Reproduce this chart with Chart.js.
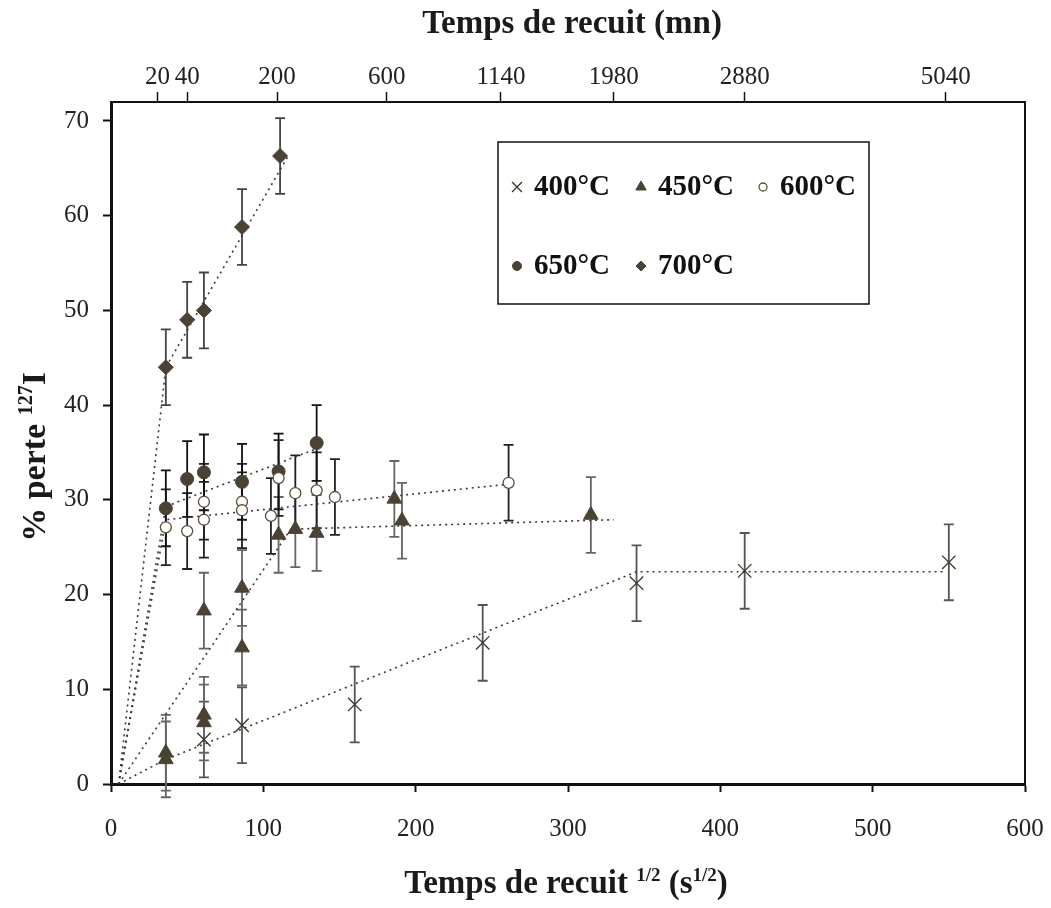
<!DOCTYPE html>
<html>
<head>
<meta charset="utf-8">
<script src="https://cdn.jsdelivr.net/npm/chart.js@4.4.1/dist/chart.umd.min.js"></script>
<style>
    body { margin: 0; background: #fff; }
    canvas { display: block; }
</style>
</head>
<body>
<canvas id="recuitChart" width="1051" height="908"></canvas>
<script>
// 400°C
var x400 = [61, 86, 160, 244, 345, 416, 550];
var y400 = [4.7, 6.2, 8.4, 14.9, 21.2, 22.5, 23.4];
var e400 = [4, 4, 4, 4, 4, 4, 4];

// 450°C
var x450 = [36, 36, 61, 61, 61, 86, 86, 110, 121, 135, 186, 191, 315];
var y450 = [3.3, 2.6, 18.3, 7.3, 6.5, 20.7, 14.4, 26.3, 26.9, 26.5, 30.1, 27.8, 28.4];
var e450 = [4, 4, 4, 4, 4, 4, 4, 4, 4, 4, 4, 4, 4];

// 600°C
var x600 = [36, 50, 61, 61, 86, 86, 105, 110, 121, 135, 147, 261];
var y600 = [27.1, 26.7, 29.8, 27.9, 29.8, 28.9, 28.3, 32.3, 30.7, 31.0, 30.3, 31.8];
var e600 = [4, 4, 4, 4, 4, 4, 4, 4, 4, 4, 4, 4];

// 650°C
var x650 = [36, 50, 61, 86, 110, 135];
var y650 = [29.1, 32.2, 32.9, 31.9, 33.0, 36.0];
var e650 = [4, 4, 4, 4, 4, 4];

// 700°C
var x700 = [36, 50, 61, 86, 111];
var y700 = [44.0, 49.0, 50.0, 58.8, 66.3];
var e700 = [4, 4, 4, 4, 4];

// dotted trend lines
var t400x = [5, 36, 345, 548];
var t400y = [0, 2.6, 22.4, 22.4];
var t450x = [5, 36, 118, 330];
var t450y = [0, 7.4, 26.9, 27.9];
var t600x = [5, 36, 258];
var t600y = [0, 27.9, 31.6];
var t650x = [5, 36, 135];
var t650y = [0, 29.3, 35.4];
var t700x = [5, 36, 117];
var t700y = [0, 44.0, 66.5];

// top axis (minutes)
var topTickPos = [30.5, 50, 109, 181, 256, 330, 416, 548];
var topTickLabels = ["20", "40", "200", "600", "1140", "1980", "2880", "5040"];

var serif = '"Liberation Serif", "Times New Roman", serif';
var markColor = "#4a4232";

function pts(xs, ys) {
    var out = [];
    for (var i = 0; i < xs.length; i++) {
        out.push({ x: xs[i], y: ys[i] });
    }
    return out;
}

function series(label, xs, ys, errs, style) {
    return Object.assign({
        type: "scatter",
        label: label,
        data: pts(xs, ys),
        errors: errs,
        order: 0
    }, style);
}

function trend(xs, ys) {
    return {
        type: "line",
        label: "",
        data: pts(xs, ys),
        isTrend: true,
        borderColor: "#3a3a3a",
        borderWidth: 1.6,
        borderDash: [2, 4],
        pointRadius: 0,
        fill: false,
        tension: 0,
        order: 5
    };
}

var datasets = [
    trend(t400x, t400y),
    trend(t450x, t450y),
    trend(t600x, t600y),
    trend(t650x, t650y),
    trend(t700x, t700y),
    series("400°C", x400, y400, e400, {
        pointStyle: "crossRot", pointRadius: 9.5, borderColor: "#3b3626", borderWidth: 1.3,
        backgroundColor: markColor, barColor: "#555", legendRadius: 7
    }),
    series("450°C", x450, y450, e450, {
        pointStyle: "triangle", pointRadius: 8.5, borderColor: markColor, borderWidth: 1,
        backgroundColor: markColor, barColor: "#666", legendRadius: 6
    }),
    series("600°C", x600, y600, e600, {
        pointStyle: "circle", pointRadius: 5.5, borderColor: "#5a4f3a", borderWidth: 1.3,
        backgroundColor: "#ffffff", barColor: "#222", legendRadius: 4
    }),
    series("650°C", x650, y650, e650, {
        pointStyle: "circle", pointRadius: 6.5, borderColor: markColor, borderWidth: 1,
        backgroundColor: markColor, barColor: "#111", legendRadius: 4.5
    }),
    series("700°C", x700, y700, e700, {
        pointStyle: "rectRot", pointRadius: 7.5, borderColor: markColor, borderWidth: 1,
        backgroundColor: markColor, barColor: "#444", legendRadius: 5
    })
];

// error bars, drawn under the markers
var errorBars = {
    id: "errorBars",
    beforeDatasetsDraw: function (chart) {
        var ctx = chart.ctx;
        var yScale = chart.scales.y;
        ctx.save();
        chart.data.datasets.forEach(function (ds, di) {
            if (!ds.errors) return;
            var meta = chart.getDatasetMeta(di);
            ctx.strokeStyle = ds.barColor;
            ctx.lineWidth = 1.8;
            meta.data.forEach(function (el, i) {
                var v = ds.data[i].y;
                var e = ds.errors[i];
                var top = yScale.getPixelForValue(v + e);
                var bot = yScale.getPixelForValue(v - e);
                ctx.beginPath();
                ctx.moveTo(el.x, top);
                ctx.lineTo(el.x, bot);
                ctx.moveTo(el.x - 5, top);
                ctx.lineTo(el.x + 5, top);
                ctx.moveTo(el.x - 5, bot);
                ctx.lineTo(el.x + 5, bot);
                ctx.stroke();
            });
        });
        ctx.restore();
    }
};

function drawRich(ctx, parts, x, y) {
    var total = 0;
    parts.forEach(function (p) {
        ctx.font = "bold " + p.size + "px " + serif;
        p.w = ctx.measureText(p.t).width;
        total += p.w;
    });
    var cx = x - total / 2;
    parts.forEach(function (p) {
        ctx.font = "bold " + p.size + "px " + serif;
        ctx.fillText(p.t, cx, y - (p.rise || 0));
        cx += p.w;
    });
}

// titles with superscripts, legend box inside the plot
var decorations = {
    id: "decorations",
    afterDraw: function (chart) {
        var ctx = chart.ctx;
        var area = chart.chartArea;
        ctx.save();
        ctx.fillStyle = "#1a1a1a";
        ctx.textBaseline = "alphabetic";
        ctx.textAlign = "left";

        drawRich(ctx, [{ t: "Temps de recuit (mn)", size: 33 }], (area.left + area.right) / 2 + 4, 33);

        drawRich(ctx, [
            { t: "Temps de recuit ", size: 33 },
            { t: "1/2", size: 19, rise: 12 },
            { t: " (s", size: 33 },
            { t: "1/2", size: 19, rise: 12 },
            { t: ")", size: 33 }
        ], (area.left + area.right) / 2 - 2, 893);

        ctx.save();
        ctx.translate(45, (area.top + area.bottom) / 2 + 14);
        ctx.rotate(-Math.PI / 2);
        drawRich(ctx, [
            { t: "% perte ", size: 34 },
            { t: "127", size: 20, rise: 13 },
            { t: "I", size: 34 }
        ], 0, 0);
        ctx.restore();

        // legend
        var bx = area.left + 387, by = area.top + 40, bw = 371, bh = 162;
        ctx.fillStyle = "#ffffff";
        ctx.fillRect(bx, by, bw, bh);
        ctx.strokeStyle = "#111";
        ctx.lineWidth = 1.5;
        ctx.strokeRect(bx, by, bw, bh);

        var slots = [[bx + 19, by + 45], [bx + 143, by + 45], [bx + 265, by + 45],
                     [bx + 19, by + 124], [bx + 143, by + 124]];
        var k = 0;
        chart.data.datasets.forEach(function (ds) {
            if (ds.isTrend) return;
            var s = slots[k++];
            ctx.fillStyle = ds.backgroundColor;
            ctx.strokeStyle = ds.borderColor;
            ctx.lineWidth = ds.borderWidth;
            Chart.helpers.drawPoint(ctx, {
                pointStyle: ds.pointStyle,
                radius: ds.legendRadius,
                borderWidth: ds.borderWidth,
                rotation: 0
            }, s[0], s[1]);
            ctx.fillStyle = "#111";
            ctx.font = "bold 29px " + serif;
            ctx.textBaseline = "middle";
            ctx.fillText(ds.label, s[0] + 17, s[1] + 1);
        });
        ctx.restore();
    }
};

var tickFont = { family: serif, size: 25 };

function noSidePad(s) {
    s.paddingLeft = 0;
    s.paddingRight = 0;
}

var recuitChart = new Chart(document.getElementById("recuitChart"), {
    data: { datasets: datasets },
    options: {
        responsive: false,
        animation: false,
        layout: { padding: { left: 0, right: 26, top: 0, bottom: 0 } },
        plugins: {
            legend: { display: false },
            tooltip: { enabled: false }
        },
        scales: {
            x: {
                type: "linear",
                position: "bottom",
                min: 0,
                max: 600,
                ticks: { stepSize: 100, font: tickFont, color: "#222", padding: 22, maxRotation: 0 },
                grid: { drawOnChartArea: false, tickLength: 8, tickWidth: 2, color: "#111" },
                border: { color: "#111", width: 3 },
                afterFit: function (s) { s.height = 124; noSidePad(s); }
            },
            x2: {
                type: "linear",
                position: "top",
                min: 0,
                max: 600,
                afterBuildTicks: function (s) {
                    s.ticks = topTickPos.map(function (v) { return { value: v }; });
                },
                ticks: {
                    font: tickFont, color: "#222", padding: 0, maxRotation: 0, autoSkip: false,
                    callback: function (v, i) { return topTickLabels[i]; }
                },
                grid: { drawOnChartArea: false, tickLength: 10, tickWidth: 1.5, color: "#111" },
                border: { color: "#111", width: 2 },
                afterFit: function (s) { s.height = 102; noSidePad(s); }
            },
            y: {
                type: "linear",
                position: "left",
                min: 0,
                max: 72,
                ticks: { stepSize: 10, includeBounds: false, font: tickFont, color: "#222", padding: 14 },
                grid: { drawOnChartArea: false, tickLength: 8, tickWidth: 2, color: "#111" },
                border: { color: "#111", width: 3 },
                afterFit: function (s) { s.width = 111; }
            },
            y2: {
                type: "linear",
                position: "right",
                min: 0,
                max: 72,
                ticks: { display: false },
                grid: { display: false },
                border: { color: "#111", width: 2 },
                afterFit: function (s) { s.width = 0; }
            }
        }
    },
    plugins: [errorBars, decorations]
});
</script>
</body>
</html>
